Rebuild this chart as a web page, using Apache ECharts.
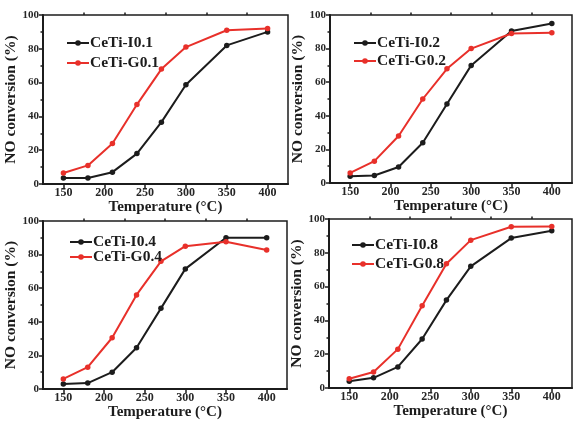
<!DOCTYPE html>
<html><head><meta charset="utf-8">
<script src="https://cdn.jsdelivr.net/npm/echarts/dist/echarts.min.js"></script>
<style>html,body{margin:0;padding:0;background:#fff}#c{width:574px;height:422px}</style>
</head><body><div id="c"></div>
<script>
const temps = [150, 180, 210, 240, 270, 300, 350, 400];
const namesI = ['CeTi-I0.1', 'CeTi-I0.2', 'CeTi-I0.4', 'CeTi-I0.8'];
const namesG = ['CeTi-G0.1', 'CeTi-G0.2', 'CeTi-G0.4', 'CeTi-G0.8'];
const I01 = [3.5, 3.5, 7, 18, 36.6, 58.7, 82, 90];
const G01 = [6.5, 11, 24, 47, 68, 81, 91, 92];
const I02 = [4, 4.5, 9.5, 24, 47, 70, 90.5, 95];
const G02 = [6, 13, 28, 50, 68, 80, 89, 89.5];
const I04 = [3, 3.5, 10, 24.6, 48, 71.5, 90, 90];
const G04 = [6, 13, 30.5, 56, 76, 85, 87.6, 82.7];
const I08 = [4, 6, 12.5, 29, 52, 72, 88.7, 93];
const G08 = [5.5, 9.5, 23, 48.7, 73.5, 87.5, 95.4, 95.6];
const xMajorTicks = [150, 200, 250, 300, 350, 400];
const xMinorTicks = [175, 225, 275, 325, 375];
const xTitle = 'Temperature (°C)';
const yTitle = 'NO conversion (%)';

const seriesI = [I01, I02, I04, I08];
const seriesG = [G01, G02, G04, G08];

const grids = [
  {left: 43, top: 15, width: 245, height: 169},
  {left: 330, top: 15, width: 242, height: 168},
  {left: 43, top: 221, width: 244, height: 168},
  {left: 329, top: 219, width: 243, height: 169}
];
const legendPos = [
  {left: 66, top: 35, gap: 4},
  {left: 353, top: 35, gap: 2},
  {left: 69, top: 234, gap: -1},
  {left: 351, top: 237, gap: 3}
];
const font = 'Liberation Serif';
const ink = '#1c1c1c';
const red = '#e8302a';

const option = {
  backgroundColor: '#fff',
  animation: false,
  grid: grids.map(g => Object.assign({show: true, borderColor: ink, borderWidth: 1.5, backgroundColor: 'transparent'}, g)),
  xAxis: [], yAxis: [], series: [], legend: []
};

grids.forEach((g, i) => {
  option.xAxis.push({
    type: 'value', gridIndex: i, min: 125, max: 425,
    name: xTitle, nameLocation: 'middle', nameGap: 14,
    nameTextStyle: {fontFamily: font, fontWeight: 'bold', fontSize: 15, color: ink},
    axisLine: {show: true, lineStyle: {color: ink, width: 2}},
    axisTick: {show: true, inside: false, length: 4, lineStyle: {color: ink, width: 1.5}, customValues: xMajorTicks},
    axisLabel: {show: true, margin: 3, fontFamily: font, fontWeight: 'bold', fontSize: 12, color: '#262626', customValues: xMajorTicks},
    splitLine: {show: false}
  });
  option.xAxis.push({
    type: 'value', gridIndex: i, min: 125, max: 425,
    axisLine: {show: false},
    axisTick: {show: true, length: 2.5, lineStyle: {color: ink, width: 1.5}, customValues: xMinorTicks},
    axisLabel: {show: false},
    splitLine: {show: false}
  });
  option.yAxis.push({
    type: 'value', gridIndex: i, min: 0, max: 100, interval: 20,
    name: yTitle, nameLocation: 'middle', nameGap: 21,
    nameTextStyle: {fontFamily: font, fontWeight: 'bold', fontSize: 15.5, color: ink},
    axisLine: {show: true, lineStyle: {color: ink, width: 2}},
    axisTick: {show: true, length: 4, lineStyle: {color: ink, width: 1.5}},
    minorTick: {show: true, splitNumber: 2, length: 2.5, lineStyle: {color: ink, width: 1.5}},
    axisLabel: {margin: 4, fontFamily: font, fontWeight: 'bold', fontSize: 11, color: '#262626'},
    splitLine: {show: false}
  });
  option.series.push({
    name: namesI[i], type: 'line', xAxisIndex: i * 2, yAxisIndex: i,
    data: temps.map((t, k) => [t, seriesI[i][k]]),
    symbol: 'circle', symbolSize: 5.5,
    lineStyle: {color: ink, width: 2}, itemStyle: {color: ink}
  });
  option.series.push({
    name: namesG[i], type: 'line', xAxisIndex: i * 2, yAxisIndex: i,
    data: temps.map((t, k) => [t, seriesG[i][k]]),
    symbol: 'circle', symbolSize: 5.5,
    lineStyle: {color: red, width: 2}, itemStyle: {color: red}
  });
  option.legend.push({
    data: [namesI[i], namesG[i]], orient: 'vertical',
    left: legendPos[i].left, top: legendPos[i].top, itemGap: legendPos[i].gap,
    itemWidth: 22, itemHeight: 7, padding: 0,
    textStyle: {fontFamily: font, fontWeight: 'bold', fontSize: 15.5, color: ink, padding: [0, 0, 0, -4]}
  });
});

const chart = echarts.init(document.getElementById('c'), null, {renderer: 'canvas'});
chart.setOption(option);
</script>
</body></html>
